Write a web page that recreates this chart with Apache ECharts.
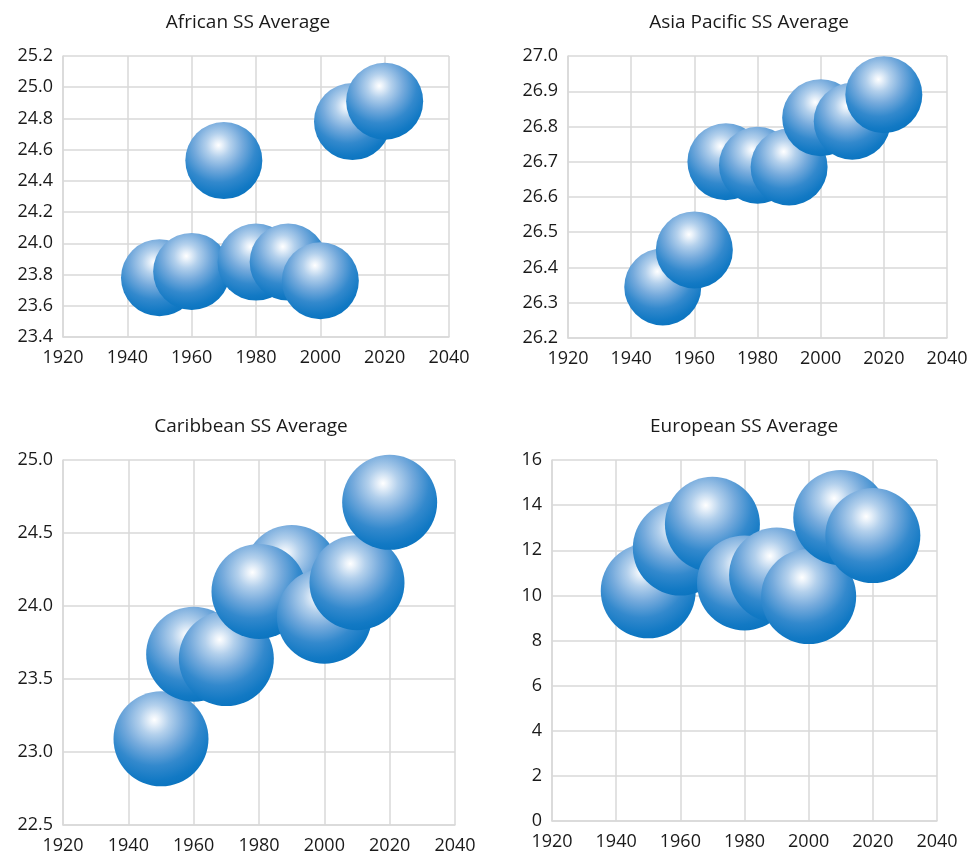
<!DOCTYPE html>
<html>
<head>
<meta charset="utf-8">
<script src="https://cdn.jsdelivr.net/npm/echarts@6/dist/echarts.min.js"></script>
<style>
  html, body { margin: 0; padding: 0; background: #ffffff; }
  #chart { width: 972px; height: 856px; }
</style>
</head>
<body>
<div id="chart"></div>
<script>
// Decades sampled for every region
const years = [1950, 1960, 1970, 1980, 1990, 2000, 2010, 2020];

// Regional SS averages per decade
const african     = [23.78, 23.82, 24.53, 23.88, 23.88, 23.76, 24.78, 24.91];
const asiaPacific = [26.345, 26.45, 26.70, 26.69, 26.685, 26.825, 26.815, 26.89];
const caribbean   = [23.09, 23.67, 23.64, 24.10, 24.23, 23.93, 24.16, 24.71];
const european    = [10.2, 12.1, 13.15, 10.55, 10.9, 9.95, 13.45, 12.65];

// Panel titles and y-axis ranges
const titles = ['African SS Average', 'Asia Pacific SS Average', 'Caribbean SS Average', 'European SS Average'];
const yRanges = [
  { min: 23.4, max: 25.2, interval: 0.2, digits: 1 },
  { min: 26.2, max: 27.0, interval: 0.1, digits: 1 },
  { min: 22.5, max: 25.0, interval: 0.5, digits: 1 },
  { min: 0, max: 16, interval: 2, digits: 0 }
];
const seriesValues = [african, asiaPacific, caribbean, european];

// Decades whose bubble sits underneath its neighbours, per panel
const drawnUnderneath = [[], [], [1990], []];

const FONT = '"Open Sans", "Noto Sans", sans-serif';
const GRID_COLOR = '#d9d9d9';
const TEXT_COLOR = '#1a1a1a';

// Panel placement in pixels
const grids = [
  { left: 63, top: 56, width: 386, height: 281 },
  { left: 568, top: 56, width: 379, height: 282 },
  { left: 63, top: 460, width: 392, height: 365 },
  { left: 552, top: 460, width: 385, height: 361 }
];
const titleCenters = [243, 744, 246, 739];
const bubbleSize = [77, 77, 95, 95];

function sphere() {
  return new echarts.graphic.RadialGradient(0.43, 0.3, 0.78, [
    { offset: 0, color: '#ffffff' },
    { offset: 0.06, color: '#eaf2fa' },
    { offset: 0.2, color: '#b3d0ec' },
    { offset: 0.4, color: '#75aadc' },
    { offset: 0.62, color: '#3389cd' },
    { offset: 0.82, color: '#1279c4' },
    { offset: 1, color: '#0570bc' }
  ]);
}

function pointsFor(i) {
  const pts = years.map((y, k) => [y, seriesValues[i][k]]);
  const under = drawnUnderneath[i];
  return pts.filter(p => under.includes(p[0])).concat(pts.filter(p => !under.includes(p[0])));
}

const option = {
  backgroundColor: '#ffffff',
  animation: false,
  title: grids.map((g, i) => ({
    text: titles[i],
    left: titleCenters[i],
    top: i < 2 ? 8 : 412,
    textAlign: 'center',
    textStyle: { fontFamily: FONT, fontSize: 19, fontWeight: 'normal', color: TEXT_COLOR }
  })),
  grid: grids.map(g => Object.assign({ containLabel: false }, g)),
  xAxis: grids.map((g, i) => ({
    type: 'value',
    gridIndex: i,
    min: 1920, max: 2040, interval: 20,
    axisLine: { show: true, lineStyle: { color: GRID_COLOR, width: 1.5 } },
    axisTick: { show: false },
    splitLine: { show: true, lineStyle: { color: GRID_COLOR, width: 1.5 } },
    axisLabel: {
      color: TEXT_COLOR, fontFamily: FONT, fontSize: 18, margin: 12,
      formatter: v => String(v)
    }
  })),
  yAxis: grids.map((g, i) => ({
    type: 'value',
    gridIndex: i,
    min: yRanges[i].min, max: yRanges[i].max, interval: yRanges[i].interval,
    axisLine: { show: true, lineStyle: { color: GRID_COLOR, width: 1.5 } },
    axisTick: { show: false },
    splitLine: { show: true, lineStyle: { color: GRID_COLOR, width: 1.5 } },
    axisLabel: {
      color: TEXT_COLOR, fontFamily: FONT, fontSize: 18, margin: 10,
      formatter: v => v.toFixed(yRanges[i].digits)
    }
  })),
  series: seriesValues.map((vals, i) => ({
    type: 'scatter',
    xAxisIndex: i,
    yAxisIndex: i,
    symbol: 'circle',
    symbolSize: bubbleSize[i],
    clip: false,
    itemStyle: { color: sphere(), opacity: 1 },
    data: pointsFor(i)
  }))
};

const chart = echarts.init(document.getElementById('chart'), null, { renderer: 'canvas' });
chart.setOption(option);
</script>
</body>
</html>
